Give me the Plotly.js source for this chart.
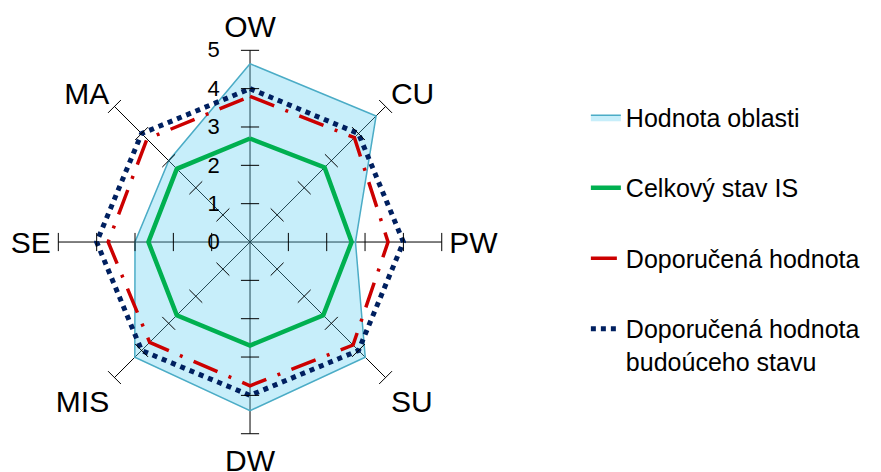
<!DOCTYPE html>
<html>
<head>
<meta charset="utf-8">
<script src="https://cdn.plot.ly/plotly-3.0.1.min.js"></script>
<style>html,body{margin:0;padding:0;background:#fff;}#chart{width:881px;height:472px;}</style>
</head>
<body>
<div id="chart"></div>
<script>
const categories = ['OW', 'CU', 'PW', 'SU', 'DW', 'MIS', 'SE', 'MA'];
const hodnotaOblasti = [4.65, 4.65, 2.75, 4.25, 4.4, 4.25, 3.0, 3.0];
const celkovyStav = [2.7, 2.75, 2.65, 2.7, 2.7, 2.7, 2.65, 2.7];
const doporucena = [3.8, 3.85, 3.6, 3.8, 3.75, 3.7, 3.7, 3.8];
const doporucenaBuduci = [4, 4, 4, 4, 4, 4, 4, 4];
const radialTicks = [0, 1, 2, 3, 4, 5];
const seriesNames = ['Hodnota oblasti', 'Celkový stav IS', 'Doporučená hodnota', 'Doporučená hodnota<br>budoúceho stavu'];

function closed(arr) { return arr.concat([arr[0]]); }
const thetaClosed = closed(categories);

// tick crosses on every spoke
const tickR = [], tickTheta = [], tickAngle = [];
categories.forEach(function (c, i) {
  radialTicks.slice(1).forEach(function (t) {
    tickR.push(t); tickTheta.push(c); tickAngle.push(i * 360 / categories.length);
  });
});

const FONT = 'Liberation Sans, Arial, sans-serif';

const traces = [
  {
    type: 'scatterpolar', r: closed(hodnotaOblasti), theta: thetaClosed, name: seriesNames[0],
    mode: 'lines', fill: 'toself', fillcolor: 'rgba(92,206,241,0.34)',
    line: {color: '#4bacc6', width: 1.5}, legendgroup: 'a'
  },
  {
    type: 'scatterpolar', r: closed(celkovyStav), theta: thetaClosed, name: seriesNames[1],
    mode: 'lines', line: {color: '#00b050', width: 4.5}, legendgroup: 'b'
  },
  {
    type: 'scatterpolar', r: closed(doporucena), theta: thetaClosed, name: seriesNames[2],
    mode: 'lines', line: {color: '#cc0000', width: 3.5, dash: '26px,12px,3px,12px'}, legendgroup: 'c'
  },
  {
    type: 'scatterpolar', r: closed(doporucenaBuduci), theta: thetaClosed, name: seriesNames[3],
    mode: 'lines', line: {color: '#002060', width: 5, dash: '5px,5px'}, legendgroup: 'd'
  },
  {
    type: 'scatterpolar', r: tickR, theta: tickTheta, mode: 'markers', showlegend: false, hoverinfo: 'skip',
    marker: {symbol: 'line-ew', size: 13, angle: tickAngle, color: '#000', line: {color: '#000', width: 1}}
  }
];

const layout = {
  width: 881, height: 472,
  margin: {l: 0, r: 0, t: 0, b: 0},
  paper_bgcolor: '#fff',
  font: {family: FONT, color: '#000'},
  showlegend: true,
  legend: {
    x: 0.665, y: 0.80, xanchor: 'left', yanchor: 'top',
    font: {family: FONT, size: 25, color: '#000'},
    tracegroupgap: 35, valign: 'top', itemwidth: 30, bgcolor: 'rgba(0,0,0,0)'
  },
  polar: {
    domain: {x: [0.0662, 0.5014], y: [0.0811, 0.8934]},
    bgcolor: 'rgba(0,0,0,0)',
    gridshape: 'linear',
    radialaxis: {
      range: [0, 5], tickvals: radialTicks, ticktext: radialTicks.map(String),
      showgrid: false, showline: false, angle: 90, tickangle: 90,
      ticks: 'outside', ticklen: 22, tickcolor: 'rgba(0,0,0,0)',
      side: 'counterclockwise',
      tickfont: {family: FONT, size: 22, color: '#000'}
    },
    angularaxis: {
      direction: 'clockwise', rotation: 90,
      showgrid: true, gridcolor: '#000', gridwidth: 1,
      showline: false, ticks: 'outside', ticklen: 1, tickcolor: 'rgba(0,0,0,0)',
      tickfont: {family: FONT, size: 30, color: '#000'}
    }
  }
};

Plotly.newPlot('chart', traces, layout, {displayModeBar: false, staticPlot: true});
</script>
</body>
</html>
